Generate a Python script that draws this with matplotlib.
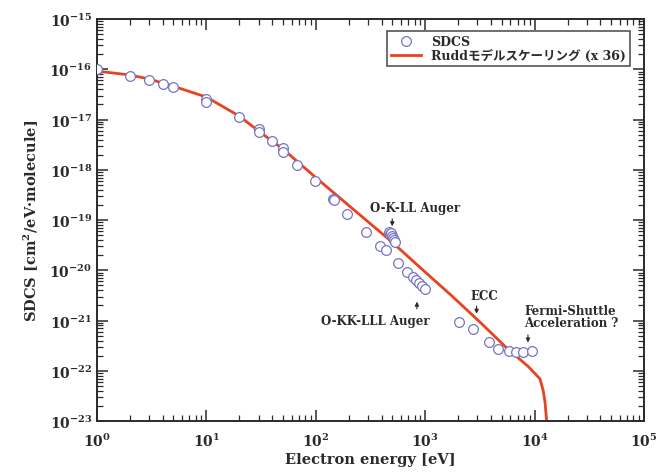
import numpy as np
import matplotlib
matplotlib.use("Agg")
import matplotlib.pyplot as plt
from matplotlib.ticker import LogLocator, NullFormatter, FixedLocator

plt.rcParams["font.family"] = ["DejaVu Serif", "Noto Sans CJK JP"]
plt.rcParams["font.weight"] = "bold"
plt.rcParams["axes.labelweight"] = "bold"
plt.rcParams["mathtext.fontset"] = "custom"
plt.rcParams["mathtext.rm"] = "DejaVu Serif:bold"
plt.rcParams["mathtext.it"] = "DejaVu Serif:bold"
plt.rcParams["mathtext.bf"] = "DejaVu Serif:bold"

# --- measured SDCS points ---
energy_pts = [1, 2, 3, 4, 5, 10, 10, 20, 30, 30, 40, 50, 50, 67, 98, 144, 146,
              193, 288, 386, 438, 467, 476, 487, 497, 508, 518, 530, 564, 682,
              773, 824, 878, 935, 996, 2040, 2740, 3830, 4630, 5830, 6760, 7830, 9460]
sdcs_pts = [1.0e-16, 7.3e-17, 6.1e-17, 5.1e-17, 4.4e-17, 2.56e-17, 2.2e-17,
            1.12e-17, 6.5e-18, 5.6e-18, 3.7e-18, 2.7e-18, 2.25e-18, 1.24e-18,
            6.0e-19, 2.6e-19, 2.5e-19, 1.3e-19, 5.8e-20, 3.0e-20, 2.5e-20,
            5.8e-20, 5.3e-20, 5.6e-20, 4.8e-20, 4.4e-20, 4.0e-20, 3.65e-20,
            1.4e-20, 9.2e-21, 7.3e-21, 6.4e-21, 5.6e-21, 4.9e-21, 4.2e-21,
            9.3e-22, 6.8e-22, 3.7e-22, 2.7e-22, 2.5e-22, 2.36e-22, 2.36e-22, 2.5e-22]

# --- Rudd model (x 36) ---
rudd_e = [1, 2, 3, 5, 10, 20, 30, 50, 100, 200, 480, 1000, 1750, 3200, 5600,
          8800, 11200, 12000, 12450, 12900, 13100]
rudd_s = [9.2e-17, 7.7e-17, 6.4e-17, 4.6e-17, 2.8e-17, 1.17e-17, 5.9e-18,
          2.6e-18, 7.0e-19, 1.95e-19, 3.9e-20, 9.2e-21, 3.1e-21, 9.1e-22,
          2.8e-22, 1.2e-22, 6.9e-23, 4.0e-23, 2.4e-23, 1.0e-23, 6.6e-24]

x_decades = [1e0, 1e1, 1e2, 1e3, 1e4, 1e5]
y_decades = [1e-23, 1e-22, 1e-21, 1e-20, 1e-19, 1e-18, 1e-17, 1e-16, 1e-15]

ink = "#2a2a2a"
fig = plt.figure(figsize=(6.72, 4.77), dpi=100)
ax = fig.add_axes([0.1443, 0.1153, 0.814, 0.8427])

ax.plot(energy_pts, sdcs_pts, linestyle="none", marker="o", markersize=7,
        markerfacecolor="white", markeredgecolor="#7474c4", markeredgewidth=0.9,
        label="SDCS", zorder=3)
ax.plot(rudd_e, rudd_s, color="#e8421e", linewidth=2,
        label="Ruddモデルスケーリング (x 36)", zorder=2)

ax.set_xscale("log")
ax.set_yscale("log")
ax.set_xlim(1, 1e5)
ax.set_ylim(1e-23, 1e-15)

ax.xaxis.set_major_locator(FixedLocator(x_decades))
ax.yaxis.set_major_locator(FixedLocator(y_decades))
ax.xaxis.set_minor_locator(LogLocator(base=10, subs=np.arange(2, 10), numticks=12))
ax.yaxis.set_minor_locator(LogLocator(base=10, subs=np.arange(2, 10), numticks=12))
ax.xaxis.set_minor_formatter(NullFormatter())
ax.yaxis.set_minor_formatter(NullFormatter())
ax.tick_params(which="both", direction="in", top=True, right=True, colors=ink,
               labelsize=10)
ax.tick_params(which="major", length=8, width=1.1)
ax.tick_params(which="minor", length=4, width=0.9)
ax.tick_params(axis="x", pad=8)
for sp in ax.spines.values():
    sp.set_color(ink)
    sp.set_linewidth(1.4)

ax.set_xlabel("Electron energy [eV]", fontsize=10.5, color=ink, labelpad=2)
ax.set_ylabel("SDCS [cm$^2$/eV·molecule]", fontsize=10.5, color=ink, labelpad=6)

leg = ax.legend(loc="upper right", fontsize=9, frameon=True, fancybox=False,
                borderpad=0.3, labelspacing=0.1, handlelength=2.4,
                bbox_to_anchor=(0.985, 0.985))
leg.get_frame().set_edgecolor(ink)
leg.get_frame().set_linewidth(1.2)
for t in leg.get_texts():
    t.set_color(ink)

arrow = dict(arrowstyle="-|>", color=ink, lw=0.8, mutation_scale=6)
txt = dict(fontsize=8.5, color=ink, ha="center", va="center")

ax.text(800, 1.8e-19, "O-K-LL Auger", **txt)
ax.annotate("", xy=(500, 6.6e-20), xytext=(500, 1.2e-19), arrowprops=arrow)

ax.text(350, 1.0e-21, "O-KK-LLL Auger", **txt)
ax.annotate("", xy=(840, 2.7e-21), xytext=(840, 1.5e-21), arrowprops=arrow)

ax.text(3500, 3.1e-21, "ECC", **txt)
ax.annotate("", xy=(2950, 1.2e-21), xytext=(2950, 2.2e-21), arrowprops=arrow)

ax.text(8100, 1.2e-21, "Fermi-Shuttle\nAcceleration ?", fontsize=8.5, color=ink,
        ha="left", va="center", linespacing=0.95)
ax.annotate("", xy=(8700, 3.2e-22), xytext=(8700, 5.9e-22), arrowprops=arrow)

fig.savefig("out.png", dpi=100, facecolor="white")
